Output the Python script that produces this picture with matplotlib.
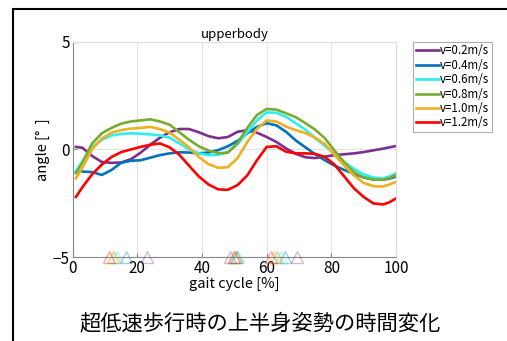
import matplotlib.pyplot as plt
from matplotlib.patches import Rectangle

plt.rcParams['font.family'] = ['Noto Sans CJK JP', 'DejaVu Sans']

gait = [1, 3, 6, 9, 12, 15, 18, 21, 24, 27, 30, 33, 36, 39, 42, 45, 48, 51,
        54, 57, 60, 63, 66, 69, 72, 75, 78, 81, 84, 87, 90, 93, 96, 98, 100]

v02 = [0.12, 0.08, -0.3, -0.58, -0.62, -0.6, -0.45, -0.15, 0.22, 0.55, 0.8, 0.95,
       0.95, 0.8, 0.62, 0.52, 0.58, 0.82, 0.9, 0.78, 0.58, 0.35, 0.05, -0.2, -0.36,
       -0.4, -0.33, -0.26, -0.22, -0.18, -0.12, -0.04, 0.04, 0.1, 0.16]
v04 = [-1.03, -1.02, -1.05, -1.18, -0.95, -0.62, -0.52, -0.5, -0.38, -0.26, -0.18,
       -0.13, -0.14, -0.18, -0.14, -0.03, 0.15, 0.4, 0.75, 1.05, 1.22, 1.12, 0.82,
       0.42, 0.1, -0.22, -0.5, -0.75, -0.95, -1.12, -1.3, -1.38, -1.4, -1.35, -1.26]
v06 = [-1.0, -0.55, 0.1, 0.45, 0.65, 0.72, 0.75, 0.73, 0.7, 0.65, 0.55, 0.28, 0.0,
       -0.18, -0.26, -0.25, -0.12, 0.25, 0.8, 1.35, 1.72, 1.7, 1.52, 1.22, 0.92,
       0.52, 0.17, -0.2, -0.58, -0.9, -1.15, -1.3, -1.34, -1.25, -1.1]
v08 = [-1.1, -0.6, 0.28, 0.75, 1.0, 1.2, 1.3, 1.35, 1.4, 1.3, 1.15, 0.8, 0.45, 0.15,
       -0.05, -0.17, -0.15, 0.3, 1.0, 1.6, 1.88, 1.85, 1.68, 1.5, 1.22, 0.92, 0.52,
       -0.05, -0.6, -1.05, -1.3, -1.4, -1.4, -1.32, -1.19]
v10 = [-1.34, -0.85, 0.02, 0.5, 0.78, 0.9, 0.97, 1.0, 1.05, 0.95, 0.78, 0.45, 0.1,
       -0.35, -0.68, -0.85, -0.82, -0.4, 0.35, 0.95, 1.35, 1.3, 1.06, 0.9, 0.76,
       0.55, 0.25, -0.25, -0.75, -1.2, -1.55, -1.7, -1.72, -1.62, -1.5]
v12 = [-2.2, -1.75, -1.15, -0.7, -0.35, -0.12, 0.0, 0.12, 0.22, 0.28, 0.1, -0.25,
       -0.75, -1.25, -1.62, -1.85, -1.87, -1.65, -1.2, -0.5, 0.12, 0.15, -0.1,
       -0.18, -0.18, -0.2, -0.35, -0.7, -1.25, -1.8, -2.2, -2.5, -2.55, -2.45, -2.27]

# gait events (%) marked with triangles on the bottom axis
events = [
    [23.1, 48.6, 69.4],
    [16.5, 50.5, 65.6],
    [13.8, 51.2, 64.5],
    [12.8, 50.8, 63.3],
    [12.2, 50.0, 62.2],
    [11.3, 49.8, 61.2],
]

labels = ['v=0.2m/s', 'v=0.4m/s', 'v=0.6m/s', 'v=0.8m/s', 'v=1.0m/s', 'v=1.2m/s']
colors = ['#7E2F8E', '#0072BD', '#2EEFEF', '#77AC30', '#EDB120', '#FF0000']
series = [v02, v04, v06, v08, v10, v12]

fig = plt.figure(figsize=(5.07, 3.41), dpi=100)
ax = fig.add_axes([0.1434, 0.2455, 0.6376, 0.6322])

for ys, ev, c, lab in zip(series, events, colors, labels):
    ax.plot(gait, ys, color=c, lw=1.9, label=lab)
    ax.plot(ev, [-5] * len(ev), linestyle='none', marker='^', ms=8,
            markerfacecolor='none', markeredgecolor=c, alpha=0.35,
            clip_on=False, zorder=5)

ax.set_xlim(0, 100)
ax.set_ylim(-5, 5)
ax.set_xticks([0, 20, 40, 60, 80, 100])
ax.set_yticks([-5, 0, 5])
ax.set_yticklabels(['\u22125', '0', '5'])
ax.grid(True, color='#e4e4e4', lw=0.8)
ax.set_axisbelow(True)
ax.tick_params(direction='in', length=3, labelsize=11, color='#888888', pad=2)
for s in ['left', 'bottom']:
    ax.spines[s].set_color('#888888')
for s in ['top', 'right']:
    ax.spines[s].set_color('#dddddd')

ax.set_title('upperbody', fontsize=9.5, pad=3)
ax.set_xlabel('gait cycle [%]', fontsize=10.5, labelpad=0)
ax.set_ylabel('angle [°  ]', fontsize=10.5, labelpad=2)

leg = ax.legend(loc='upper left', bbox_to_anchor=(0.814, 0.878),
                bbox_transform=fig.transFigure, fontsize=8.3, frameon=True,
                fancybox=False, edgecolor='#999999', handlelength=2.0,
                handletextpad=0.1, borderpad=0.25, labelspacing=0.12,
                borderaxespad=0)
leg.get_frame().set_linewidth(0.8)

fig.text(0.513, 0.052, '超低速歩行時の上半身姿勢の時間変化', ha='center',
         va='center', fontsize=15.3)

fig.patches.append(Rectangle((13 / 507, -0.1), 1.2, 1 - 9 / 341 + 0.1,
                             transform=fig.transFigure, fill=False,
                             edgecolor='black', lw=1.5))

fig.savefig('out.png', dpi=100)
